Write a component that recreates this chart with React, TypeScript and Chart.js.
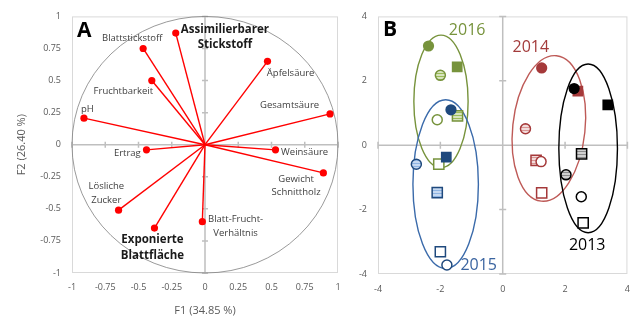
import React, { useEffect, useRef } from 'react';
import { Chart, registerables } from 'chart.js';
Chart.register(...registerables);

const FONT = '"Open Sans", sans-serif';

// ---------- Panel A data (PCA loadings) ----------
const VAR_NAMES = [
  'Assimilierbarer\nStickstoff', 'Blattstickstoff', 'Fruchtbarkeit', 'pH', 'Äpfelsäure', 'Gesamtsäure',
  'Weinsäure', 'Ertrag', 'Gewicht\nSchnittholz', 'Lösliche\nZucker', 'Exponierte\nBlattfläche', 'Blatt-Frucht-\nVerhältnis',
];
const F1 = [-0.22, -0.465, -0.40, -0.91, 0.47, 0.94, 0.53, -0.44, 0.89, -0.65, -0.38, -0.02];
const F2 = [0.87, 0.75, 0.50, 0.207, 0.65, 0.24, -0.04, -0.04, -0.22, -0.51, -0.65, -0.60];
const VAR_BOLD = [true, false, false, false, false, false, false, false, false, false, true, false];
const LABEL_X = [0.15, -0.547, -0.614, -0.885, 0.644, 0.636, 0.749, -0.584, 0.685, -0.742, -0.395, 0.23];
const LABEL_Y = [0.838, 0.83, 0.413, 0.274, 0.56, 0.305, -0.058, -0.066, -0.32, -0.378, -0.803, -0.637];
const A_TICKS = [-1, -0.75, -0.5, -0.25, 0, 0.25, 0.5, 0.75, 1];

// ---------- Panel B data (PCA scores) ----------
const YEARS = ['2016', '2015', '2014', '2013'];
// marker order: filled circle, filled square, striped circle, striped square, open circle, open square
const MARKER_KIND = ['fc', 'fs', 'sc', 'ss', 'oc', 'os'];
const X2016 = [-2.38, -1.46, -2.0, -1.45, -2.1, -2.05];
const Y2016 = [3.08, 2.43, 2.17, 0.91, 0.79, -0.59];
const X2015 = [-1.66, -1.81, -2.77, -2.1, -1.79, -2.0];
const Y2015 = [1.10, -0.37, -0.59, -1.47, -3.72, -3.31];
const X2014 = [1.25, 2.41, 0.73, 1.07, 1.23, 1.25];
const Y2014 = [2.40, 1.68, 0.51, -0.47, -0.51, -1.48];
const X2013 = [2.29, 3.37, 2.03, 2.53, 2.52, 2.58];
const Y2013 = [1.76, 1.25, -0.92, -0.27, -1.6, -2.41];
const YEAR_X = [X2016, X2015, X2014, X2013];
const YEAR_Y = [Y2016, Y2015, Y2014, Y2013];
const YEAR_MAIN = ['#77933C', '#1F497D', '#A5393A', '#000000'];
const YEAR_TINT = ['#D7E4BD', '#C6D9F1', '#F2DCDB', '#D0D0D0'];
const YEAR_STRIPE = ['#9BBB59', '#8EB4E3', '#D99694', '#8C8C8C'];
const YEAR_ELL_COLOR = ['#77933C', '#3A6AAA', '#BE5A57', '#000000'];
const YEAR_LABEL_COLOR = ['#77933C', '#3A64A0', '#A33B3B', '#000000'];
const ELL_CX = [-1.98, -1.83, 1.48, 2.74];
const ELL_CY = [1.36, -1.21, 0.52, -0.10];
const ELL_RX = [0.87, 1.05, 1.16, 0.94];
const ELL_RY = [2.06, 2.62, 2.27, 2.62];
const ELL_ROT = [0, 0, 6, 0];
const YEAR_LX = [-1.14, -0.77, 0.90, 2.71];
const YEAR_LY = [3.56, -3.72, 3.05, -3.11];
const B_TICKS = [-4, -2, 0, 2, 4];

function stripes(light: string, dark: string) {
  const c = document.createElement('canvas');
  c.width = 4;
  c.height = 3;
  const g = c.getContext('2d')!;
  g.fillStyle = light;
  g.fillRect(0, 0, 4, 3);
  g.fillStyle = dark;
  g.fillRect(0, 1, 4, 1);
  return g.createPattern(c, 'repeat')!;
}

function drawFrameAndAxes(chart: any, step: number, tickLen: number) {
  const { ctx, chartArea: ca, scales } = chart;
  const xs = scales.x, ys = scales.y;
  ctx.save();
  ctx.strokeStyle = '#D9D9D9';
  ctx.lineWidth = 1;
  ctx.strokeRect(ca.left + 0.5, ca.top + 0.5, ca.right - ca.left - 1, ca.bottom - ca.top - 1);
  const x0 = xs.getPixelForValue(0);
  const y0 = ys.getPixelForValue(0);
  ctx.strokeStyle = '#BFBFBF';
  ctx.lineWidth = 1.5;
  ctx.beginPath();
  ctx.moveTo(x0, ca.top);
  ctx.lineTo(x0, ca.bottom);
  ctx.moveTo(ca.left, y0);
  ctx.lineTo(ca.right, y0);
  for (let v = xs.min; v <= xs.max + 1e-9; v += step) {
    const px = xs.getPixelForValue(v);
    ctx.moveTo(px, y0 - tickLen);
    ctx.lineTo(px, y0 + tickLen);
  }
  for (let v = ys.min; v <= ys.max + 1e-9; v += step) {
    const py = ys.getPixelForValue(v);
    ctx.moveTo(x0 - tickLen, py);
    ctx.lineTo(x0 + tickLen, py);
  }
  ctx.stroke();
  ctx.restore();
}

const pluginA = {
  id: 'pcaA',
  beforeDatasetsDraw(chart: any) {
    drawFrameAndAxes(chart, 0.25, 3);
    const { ctx, scales } = chart;
    const xs = scales.x, ys = scales.y;
    const cx = xs.getPixelForValue(0), cy = ys.getPixelForValue(0);
    const rx = Math.abs(xs.getPixelForValue(1) - cx);
    const ry = Math.abs(ys.getPixelForValue(1) - cy);
    ctx.save();
    ctx.strokeStyle = '#808080';
    ctx.lineWidth = 0.8;
    ctx.beginPath();
    ctx.ellipse(cx, cy, rx, ry, 0, 0, Math.PI * 2);
    ctx.stroke();
    ctx.restore();
  },
  afterDatasetsDraw(chart: any) {
    const { ctx, scales } = chart;
    const xs = scales.x, ys = scales.y;
    ctx.save();
    ctx.textAlign = 'center';
    ctx.textBaseline = 'middle';
    VAR_NAMES.forEach((name, i) => {
      const lines = name.split('\n');
      const bold = VAR_BOLD[i];
      ctx.font = bold ? `bold 11.5px ${FONT}` : `9.5px ${FONT}`;
      ctx.fillStyle = bold ? '#1A1A1A' : '#404040';
      const lh = bold ? 15.5 : 13.5;
      const px = xs.getPixelForValue(LABEL_X[i]);
      const py = ys.getPixelForValue(LABEL_Y[i]);
      lines.forEach((ln, k) => {
        ctx.fillText(ln, px, py + (k - (lines.length - 1) / 2) * lh);
      });
    });
    ctx.font = `bold 21px ${FONT}`;
    ctx.fillStyle = '#000';
    ctx.fillText('A', xs.getPixelForValue(-0.907), ys.getPixelForValue(0.884));
    ctx.restore();
  },
};

const pluginB = {
  id: 'pcaB',
  beforeDatasetsDraw(chart: any) {
    drawFrameAndAxes(chart, 2, 3.5);
    const { ctx, scales } = chart;
    const xs = scales.x, ys = scales.y;
    ctx.save();
    ctx.lineWidth = 1.4;
    YEARS.forEach((_, i) => {
      const cx = xs.getPixelForValue(ELL_CX[i]);
      const cy = ys.getPixelForValue(ELL_CY[i]);
      const rx = Math.abs(xs.getPixelForValue(ELL_CX[i] + ELL_RX[i]) - cx);
      const ry = Math.abs(ys.getPixelForValue(ELL_CY[i] + ELL_RY[i]) - cy);
      ctx.strokeStyle = YEAR_ELL_COLOR[i];
      ctx.beginPath();
      ctx.ellipse(cx, cy, rx, ry, (ELL_ROT[i] * Math.PI) / 180, 0, Math.PI * 2);
      ctx.stroke();
    });
    ctx.restore();
  },
  afterDatasetsDraw(chart: any) {
    const { ctx, scales } = chart;
    const xs = scales.x, ys = scales.y;
    ctx.save();
    ctx.textAlign = 'center';
    ctx.textBaseline = 'middle';
    ctx.font = `16px ${FONT}`;
    YEARS.forEach((y, i) => {
      ctx.fillStyle = YEAR_LABEL_COLOR[i];
      ctx.fillText(y, xs.getPixelForValue(YEAR_LX[i]), ys.getPixelForValue(YEAR_LY[i]));
    });
    ctx.font = `bold 21px ${FONT}`;
    ctx.fillStyle = '#000';
    ctx.fillText('B', xs.getPixelForValue(-3.61), ys.getPixelForValue(3.57));
    ctx.restore();
  },
};

const tickFont = { family: FONT, size: 9 };
const fmt = (v: any) => String(Math.round(Number(v) * 100) / 100);

function configA(): any {
  return {
    type: 'scatter',
    data: {
      datasets: VAR_NAMES.map((n, i) => ({
        label: n,
        data: [{ x: 0, y: 0 }, { x: F1[i], y: F2[i] }],
        showLine: true,
        borderColor: '#FF0000',
        backgroundColor: '#FF0000',
        borderWidth: 1.4,
        pointRadius: [0, 3.6],
        pointBorderWidth: 0,
        pointHoverRadius: 0,
      })),
    },
    options: {
      animation: false,
      responsive: false,
      events: [],
      layout: { padding: { left: 0, right: 12, top: 14, bottom: 0 } },
      plugins: { legend: { display: false }, tooltip: { enabled: false } },
      scales: {
        x: {
          type: 'linear', min: -1, max: 1,
          afterBuildTicks: (s: any) => { s.ticks = A_TICKS.map((v) => ({ value: v })); },
          afterFit: (s: any) => { s.height = 47; },
          grid: { display: false, drawTicks: false },
          border: { display: false },
          ticks: { font: tickFont, color: '#595959', padding: 9, maxRotation: 0, autoSkip: false, callback: fmt },
          title: { display: true, text: 'F1 (34.85 %)', font: { family: FONT, size: 11 }, color: '#595959', padding: { top: 0, bottom: 3 } },
        },
        y: {
          type: 'linear', min: -1, max: 1,
          afterBuildTicks: (s: any) => { s.ticks = A_TICKS.map((v) => ({ value: v })); },
          afterFit: (s: any) => { s.width = 72; },
          grid: { display: false, drawTicks: false },
          border: { display: false },
          ticks: { font: tickFont, color: '#595959', padding: 11, autoSkip: false, callback: fmt },
          title: { display: true, text: 'F2 (26.40 %)', font: { family: FONT, size: 11 }, color: '#595959', padding: { top: 15, bottom: 0 } },
        },
      },
    },
    plugins: [pluginA],
  };
}

function configB(): any {
  const datasets = YEARS.map((yr, i) => {
    const main = YEAR_MAIN[i];
    const pat = stripes(YEAR_TINT[i], YEAR_STRIPE[i]);
    return {
      label: yr,
      order: [3, 2, 1, 0][i],
      data: YEAR_X[i].map((x, k) => ({ x, y: YEAR_Y[i][k] })),
      showLine: false,
      pointStyle: MARKER_KIND.map((m) => (m.endsWith('s') ? 'rect' : 'circle')),
      pointRadius: MARKER_KIND.map((m) => (m.endsWith('s') ? (m === 'fs' ? 7.6 : 7.2) : m === 'fc' ? 5.6 : 5)),
      pointBackgroundColor: MARKER_KIND.map((m) => (m[0] === 'f' ? main : m[0] === 's' ? pat : '#FFFFFF')),
      pointBorderColor: main,
      pointBorderWidth: MARKER_KIND.map((m) => (m[0] === 'f' ? 0 : 1.5)),
      pointHoverRadius: 0,
    };
  });
  return {
    type: 'scatter',
    data: { datasets },
    options: {
      animation: false,
      responsive: false,
      events: [],
      layout: { padding: { left: 0, right: 9, top: 14, bottom: 0 } },
      plugins: { legend: { display: false }, tooltip: { enabled: false } },
      scales: {
        x: {
          type: 'linear', min: -4, max: 4,
          afterBuildTicks: (s: any) => { s.ticks = B_TICKS.map((v) => ({ value: v })); },
          afterFit: (s: any) => { s.height = 46; },
          grid: { display: false, drawTicks: false },
          border: { display: false },
          ticks: { font: tickFont, color: '#595959', padding: 10, maxRotation: 0, autoSkip: false, callback: fmt },
        },
        y: {
          type: 'linear', min: -4, max: 4,
          afterBuildTicks: (s: any) => { s.ticks = B_TICKS.map((v) => ({ value: v })); },
          afterFit: (s: any) => { s.width = 28; },
          grid: { display: false, drawTicks: false },
          border: { display: false },
          ticks: { font: tickFont, color: '#595959', padding: 11, autoSkip: false, callback: fmt },
        },
      },
    },
    plugins: [pluginB],
  };
}

export default function App() {
  const refA = useRef<HTMLCanvasElement>(null);
  const refB = useRef<HTMLCanvasElement>(null);
  useEffect(() => {
    const a = new Chart(refA.current!, configA());
    const b = new Chart(refB.current!, configB());
    return () => {
      a.destroy();
      b.destroy();
    };
  }, []);
  return (
    <div style={{ position: 'absolute', left: 0, top: 0, width: 640, height: 320, background: '#FFFFFF' }}>
      <canvas ref={refA} width={350} height={320} style={{ position: 'absolute', left: 0, top: 0, width: 350, height: 320 }} />
      <canvas ref={refB} width={290} height={320} style={{ position: 'absolute', left: 350, top: 0, width: 290, height: 320 }} />
    </div>
  );
}
